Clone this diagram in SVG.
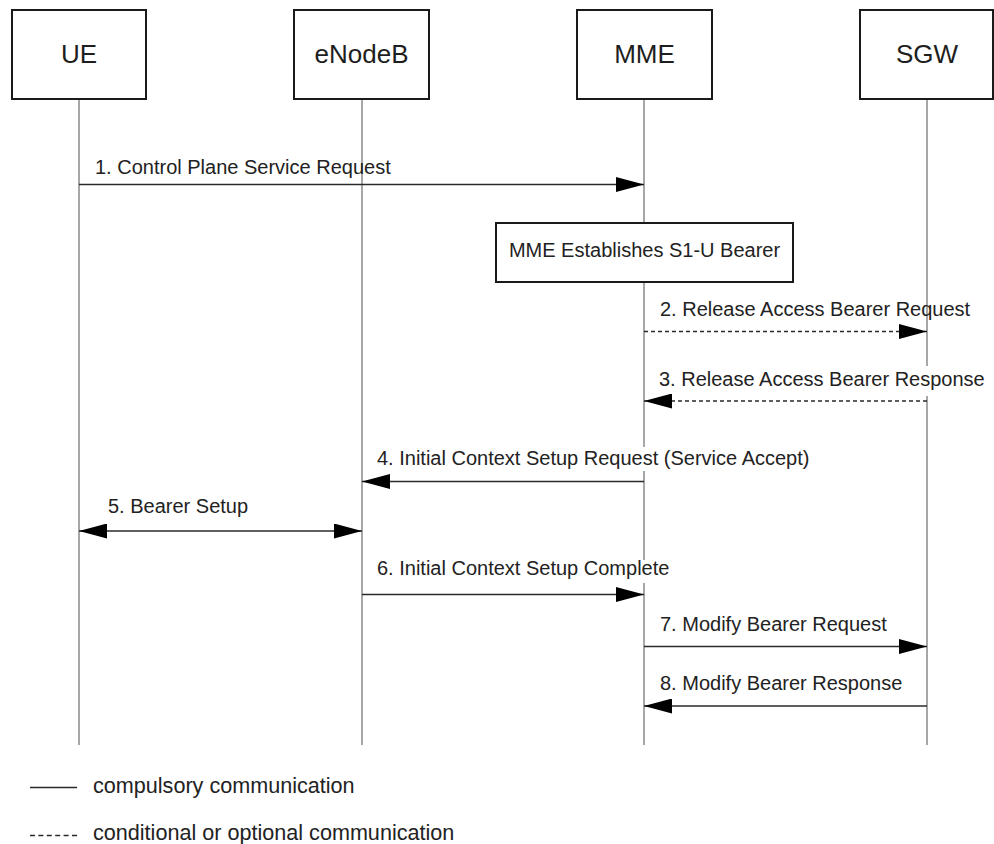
<svg xmlns="http://www.w3.org/2000/svg" width="994" height="844" viewBox="0 0 994 844">
  <style>
    .box { fill: #ffffff; stroke: #1a1a1a; stroke-width: 2; }
    .life { stroke: #8a8a8a; stroke-width: 1.5; fill: none; }
    .msg { stroke: #2a2a2a; stroke-width: 1.6; fill: none; }
    .opt { stroke-dasharray: 4 3; }
    .name { font-family: "Liberation Sans", Arial, sans-serif; font-size: 26px; fill: #1e1e1e; text-anchor: middle; }
    .lbl { font-family: "Liberation Sans", Arial, sans-serif; font-size: 20px; fill: #222222; }
    .leg { font-family: "Liberation Sans", Arial, sans-serif; font-size: 21.6px; fill: #222222; }
    .bg { fill: #ffffff; }
  </style>
  <defs>
    <marker id="head" viewBox="0 0 28 15" refX="28" refY="7.5" markerWidth="28" markerHeight="15" markerUnits="userSpaceOnUse" orient="auto-start-reverse">
      <path d="M0,0 L28,7.5 L0,15 Z" fill="#000000"/>
    </marker>
  </defs>

  <rect width="994" height="844" fill="#ffffff"/>

  <!-- lifelines -->
  <g id="lifelines">
    <line class="life" x1="79" y1="99" x2="79" y2="745"/>
    <line class="life" x1="362" y1="99" x2="362" y2="745"/>
    <line class="life" x1="644" y1="99" x2="644" y2="745"/>
    <line class="life" x1="927" y1="99" x2="927" y2="745"/>
  </g>

  <!-- participants -->
  <g id="ue">
    <rect class="box" x="12" y="10" width="134" height="89"/>
    <text class="name" x="79" y="63">UE</text>
  </g>
  <g id="enodeb">
    <rect class="box" x="294" y="10" width="135" height="89"/>
    <text class="name" x="361.5" y="63">eNodeB</text>
  </g>
  <g id="mme">
    <rect class="box" x="577" y="10" width="135" height="89"/>
    <text class="name" x="644.5" y="63">MME</text>
  </g>
  <g id="sgw">
    <rect class="box" x="860" y="10" width="133" height="89"/>
    <text class="name" x="927" y="63">SGW</text>
  </g>

  <!-- internal action at the MME -->
  <g id="mme-action">
    <rect class="box" x="496" y="223" width="297" height="59"/>
    <text class="lbl" x="644.5" y="257" text-anchor="middle">MME Establishes S1-U Bearer</text>
  </g>

  <!-- messages -->
  <g id="connectors">
    <line class="msg" x1="79" y1="184.5" x2="644" y2="184.5" marker-end="url(#head)"/>
    <line class="msg opt" x1="644" y1="331.5" x2="927" y2="331.5" marker-end="url(#head)"/>
    <line class="msg opt" x1="927" y1="401" x2="644" y2="401" marker-end="url(#head)"/>
    <line class="msg" x1="644" y1="481.5" x2="362" y2="481.5" marker-end="url(#head)"/>
    <line class="msg" x1="79" y1="531" x2="362" y2="531" marker-start="url(#head)" marker-end="url(#head)"/>
    <line class="msg" x1="362" y1="594.5" x2="644" y2="594.5" marker-end="url(#head)"/>
    <line class="msg" x1="644" y1="646.5" x2="927" y2="646.5" marker-end="url(#head)"/>
    <line class="msg" x1="927" y1="706" x2="644" y2="706" marker-end="url(#head)"/>
  </g>

  <!-- message labels -->
  <g id="labels">
    <text class="lbl" x="95" y="173.5">1. Control Plane Service Request</text>
    <text class="lbl" x="660" y="316">2. Release Access Bearer Request</text>
    <rect class="bg" x="910" y="366" width="34" height="30"/>
    <text class="lbl" x="659" y="386">3. Release Access Bearer Response</text>
    <rect class="bg" x="630" y="447" width="30" height="24"/>
    <text class="lbl" x="377" y="465">4. Initial Context Setup Request (Service Accept)</text>
    <text class="lbl" x="108" y="513">5. Bearer Setup</text>
    <rect class="bg" x="630" y="560" width="24" height="23"/>
    <text class="lbl" x="377" y="575">6. Initial Context Setup Complete</text>
    <text class="lbl" x="660" y="630.5">7. Modify Bearer Request</text>
    <text class="lbl" x="660" y="690">8. Modify Bearer Response</text>
  </g>

  <!-- legend -->
  <g id="legend">
    <line class="msg" x1="30" y1="787.5" x2="77" y2="787.5"/>
    <text class="leg" x="93" y="793">compulsory communication</text>
    <line class="msg" x1="30" y1="835.5" x2="77" y2="835.5" stroke-dasharray="5 3.4"/>
    <text class="leg" x="93" y="840">conditional or optional communication</text>
  </g>
</svg>
